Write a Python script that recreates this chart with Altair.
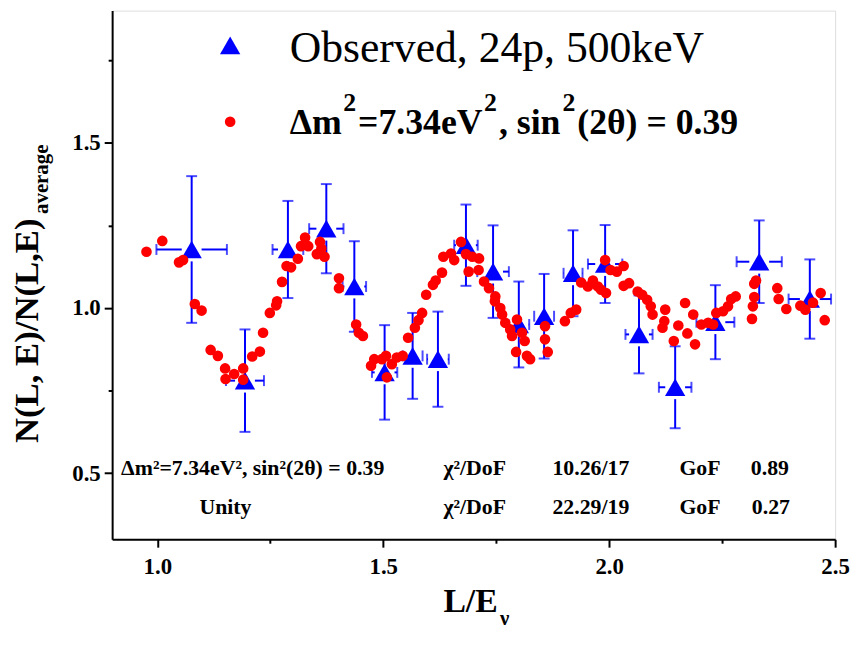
import altair as alt
import pandas as pd

# ---------------- data ----------------
obs_x = [1.076, 1.194, 1.289, 1.374, 1.436, 1.503, 1.565, 1.621, 1.683, 1.743,
         1.800, 1.856, 1.920, 1.991, 2.066, 2.146, 2.235, 2.332, 2.444]
obs_y = [1.177, 0.780, 1.177, 1.240, 1.065, 0.805, 0.855, 0.845, 1.190, 1.110,
         0.950, 0.975, 1.105, 1.133, 0.920, 0.760, 0.957, 1.140, 1.027]
obs_yerr = [0.222, 0.155, 0.147, 0.135, 0.137, 0.143, 0.130, 0.144, 0.123, 0.140,
            0.130, 0.128, 0.130, 0.118, 0.118, 0.124, 0.112, 0.125, 0.120]
obs_xerr = [0.078, 0.042, 0.034, 0.038, 0.026, 0.028, 0.022, 0.024, 0.026, 0.035,
            0.023, 0.022, 0.021, 0.038, 0.030, 0.036, 0.042, 0.050, 0.047]

fit_x = [0.976, 1.011, 1.048, 1.057, 1.083, 1.098, 1.118, 1.134, 1.150, 1.151,
         1.170, 1.190, 1.190, 1.210, 1.227, 1.234, 1.249, 1.263, 1.265, 1.276,
         1.286, 1.296, 1.311, 1.318, 1.327, 1.334, 1.353, 1.360, 1.363, 1.370,
         1.402, 1.402, 1.440, 1.446, 1.455, 1.473, 1.480, 1.497, 1.506, 1.508,
         1.519, 1.530, 1.543, 1.555, 1.570, 1.578, 1.586, 1.595, 1.610, 1.616,
         1.630, 1.633, 1.650, 1.657, 1.672, 1.683, 1.689, 1.697, 1.712, 1.711,
         1.723, 1.734, 1.748, 1.747, 1.759, 1.763, 1.770, 1.781, 1.785, 1.794,
         1.796, 1.807, 1.813, 1.818, 1.825, 1.858, 1.858, 1.864, 1.902, 1.915,
         1.927, 1.938, 1.953, 1.964, 1.975, 1.982, 1.991, 1.993, 2.003, 2.017,
         2.032, 2.032, 2.044, 2.063, 2.073, 2.084, 2.092, 2.096, 2.118, 2.122,
         2.124, 2.143, 2.153, 2.168, 2.173, 2.186, 2.190, 2.204, 2.219, 2.230,
         2.237, 2.252, 2.263, 2.270, 2.280, 2.316, 2.318, 2.321, 2.321, 2.325,
         2.372, 2.375, 2.392, 2.423, 2.434, 2.451, 2.468, 2.477]
fit_y = [1.170, 1.203, 1.138, 1.145, 1.012, 0.992, 0.873, 0.855, 0.817, 0.785,
         0.800, 0.817, 0.783, 0.853, 0.868, 0.925, 0.985, 1.008, 1.020, 1.079,
         1.127, 1.123, 1.149, 1.187, 1.213, 1.187, 1.163, 1.200, 1.180, 1.155,
         1.090, 1.060, 0.950, 0.925, 0.915, 0.825, 0.845, 0.845, 0.855, 0.790,
         0.830, 0.850, 0.855, 0.910, 0.940, 0.963, 0.985, 1.040, 1.070, 1.083,
         1.107, 1.155, 1.165, 1.145, 1.200, 1.163, 1.110, 1.155, 1.150, 1.115,
         1.080, 1.060, 1.035, 1.020, 1.000, 0.980, 0.955, 0.935, 0.915, 0.867,
         0.965, 0.925, 0.900, 0.855, 0.845, 0.945, 0.905, 0.867, 0.960, 0.985,
         0.995, 1.077, 1.065, 1.083, 1.065, 1.055, 1.145, 1.045, 1.115, 1.110,
         1.127, 1.067, 1.075, 1.050, 1.040, 1.025, 1.005, 0.980, 0.940, 0.960,
         0.995, 0.900, 0.947, 1.015, 0.923, 0.980, 0.890, 0.950, 0.955, 0.950,
         0.985, 0.990, 1.005, 1.027, 1.035, 0.967, 1.005, 1.033, 1.073, 1.083,
         1.060, 1.027, 0.997, 1.007, 0.995, 1.016, 1.045, 0.963]

x_major = [1.0, 1.5, 2.0, 2.5]
x_minor = [1.25, 1.75, 2.25]
y_major = [0.5, 1.0, 1.5]
y_minor = [0.75, 1.25, 1.75]

legend_obs = "Observed, 24p, 500keV"
# legend label for the fit, split into base-line pieces and superscripts
legend_fit_parts = ["\u0394m", "=7.34eV", ", sin", "(2\u03b8) = 0.39"]
legend_fit_sups = ["2", "2", "2"]
row1 = ["\u0394m\u00b2=7.34eV\u00b2, sin\u00b2(2\u03b8) = 0.39", "\u03c7\u00b2/DoF", "10.26/17", "GoF", "0.89"]
row2 = ["Unity", "\u03c7\u00b2/DoF", "22.29/19", "GoF", "0.27"]

# ---------------- layout ----------------
W, H = 729, 533
XD = [0.9, 2.5]
YD = [0.3, 1.9]
PX_X = W / (XD[1] - XD[0])
PX_Y = H / (YD[1] - YD[0])
FONT = "Liberation Serif"
BLUE = "#0000FF"
RED = "#FF0000"

obs = pd.DataFrame({"x": obs_x, "y": obs_y, "ex": obs_xerr, "ey": obs_yerr})
obs["ylo"] = obs.y - obs.ey
obs["yhi"] = obs.y + obs.ey
obs["ygap"] = obs.y - 12 / PX_Y
obs["xlo"] = obs.x - obs.ex
obs["xhi"] = obs.x + obs.ex
obs["xgl"] = obs.x - 10 / PX_X
obs["xgr"] = obs.x + 10 / PX_X
fit = pd.DataFrame({"x": fit_x, "y": fit_y})

xs = alt.Scale(domain=XD, nice=False, zero=False)
ys = alt.Scale(domain=YD, nice=False, zero=False)

def xax(minor=False):
    if minor:
        return alt.Axis(values=x_minor, labels=False, domain=False, tickSize=4, tickWidth=2,
                        tickColor="black", title=None, grid=False, orient="bottom")
    return alt.Axis(values=x_major, format=".1f", title=None, grid=False, orient="bottom",
                    tickSize=8, tickWidth=2, tickColor="black", domainColor="black",
                    domainWidth=2, labelFont=FONT, labelFontWeight="bold", labelFontSize=23,
                    labelColor="black", labelPadding=9, labelFlush=False)

def yax(minor=False):
    if minor:
        return alt.Axis(values=y_minor, labels=False, domain=False, tickSize=4, tickWidth=2,
                        tickColor="black", title=None, grid=False, orient="left")
    return alt.Axis(values=y_major, format=".1f", title=None, grid=False, orient="left",
                    tickSize=8, tickWidth=2, tickColor="black", domainColor="black",
                    domainWidth=2, labelFont=FONT, labelFontWeight="bold", labelFontSize=23,
                    labelColor="black", labelPadding=4)

base = alt.Chart(obs)
vup = base.mark_rule(color=BLUE, strokeWidth=2).encode(
    x=alt.X("x:Q", scale=xs, axis=None), y=alt.Y("y:Q", scale=ys, axis=None), y2="yhi:Q")
vdn = base.mark_rule(color=BLUE, strokeWidth=2).encode(
    x=alt.X("x:Q", scale=xs, axis=None), y=alt.Y("ylo:Q", scale=ys, axis=None), y2="ygap:Q")
hl = base.mark_rule(color=BLUE, strokeWidth=2).encode(
    x=alt.X("xlo:Q", scale=xs, axis=None), x2="xgl:Q", y=alt.Y("y:Q", scale=ys, axis=None))
hr = base.mark_rule(color=BLUE, strokeWidth=2).encode(
    x=alt.X("xgr:Q", scale=xs, axis=None), x2="xhi:Q", y=alt.Y("y:Q", scale=ys, axis=None))
cap_t = base.mark_tick(color=BLUE, orient="horizontal", size=11, thickness=2).encode(
    x=alt.X("x:Q", scale=xs, axis=None), y=alt.Y("yhi:Q", scale=ys, axis=None))
cap_b = base.mark_tick(color=BLUE, orient="horizontal", size=11, thickness=2).encode(
    x=alt.X("x:Q", scale=xs, axis=None), y=alt.Y("ylo:Q", scale=ys, axis=None))
cap_l = base.mark_tick(color=BLUE, orient="vertical", size=11, thickness=2).encode(
    x=alt.X("xlo:Q", scale=xs, axis=None), y=alt.Y("y:Q", scale=ys, axis=None))
cap_r = base.mark_tick(color=BLUE, orient="vertical", size=11, thickness=2).encode(
    x=alt.X("xhi:Q", scale=xs, axis=None), y=alt.Y("y:Q", scale=ys, axis=None))
tri = base.mark_point(shape="triangle-up", filled=True, color=BLUE, size=420, opacity=1).encode(
    x=alt.X("x:Q", scale=xs, axis=xax(True)), y=alt.Y("y:Q", scale=ys, axis=yax(True)))
dots = alt.Chart(fit).mark_circle(color=RED, size=115, opacity=1).encode(
    x=alt.X("x:Q", scale=xs, axis=xax()), y=alt.Y("y:Q", scale=ys, axis=yax()))

one = pd.DataFrame({"a": [0]})

def txt(s, x, y, size, weight="bold", align="left", baseline="alphabetic", angle=0):
    return alt.Chart(one).mark_text(text=s, font=FONT, fontSize=size, fontWeight=weight,
                                    align=align, baseline=baseline, angle=angle,
                                    color="black").encode(x=alt.value(x), y=alt.value(y))

layers = [vup, vdn, hl, hr, cap_t, cap_b, cap_l, cap_r, tri, dots]

# legend
layers.append(alt.Chart(one).mark_point(shape="triangle-up", filled=True, color=BLUE,
                                         size=420, opacity=1).encode(x=alt.value(119), y=alt.value(35)))
layers.append(alt.Chart(one).mark_circle(color=RED, size=115, opacity=1).encode(
    x=alt.value(119), y=alt.value(112)))
layers.append(txt(legend_obs, 179, 52, 44, weight="normal"))
part_x = [179, 248, 390, 469]
sup_x = [233, 375, 454]
for s, xx in zip(legend_fit_parts, part_x):
    layers.append(txt(s, xx, 124, 36))
for s, xx in zip(legend_fit_sups, sup_x):
    layers.append(txt(s, xx, 101, 26))

# fit statistics
row_x1 = [9, 334, 444, 572, 644]
row_x2 = [88, 334, 444, 572, 645]
for s, xx in zip(row1, row_x1):
    layers.append(txt(s, xx, 468, 22))
for s, xx in zip(row2, row_x2):
    layers.append(txt(s, xx, 508, 22))

# axis titles with subscripts
layers.append(txt("L/E", 334, 606, 34))
layers.append(txt("\u03bd", 391, 619, 21))
layers.append(txt("N(L, E)/N(L,E)", -75, 436, 35, angle=270))
layers.append(txt("average", -65, 205, 21, angle=270))

chart = alt.layer(*layers).resolve_axis(x="independent", y="independent").properties(
    width=W, height=H,
    autosize=alt.AutoSizeParams(type="none"),
    padding={"left": 105, "top": 0, "right": 15, "bottom": 104},
).configure_view(stroke="black", strokeWidth=2).configure(background="white")

chart.save("out.html", embed_options={"renderer": "svg", "actions": False})
